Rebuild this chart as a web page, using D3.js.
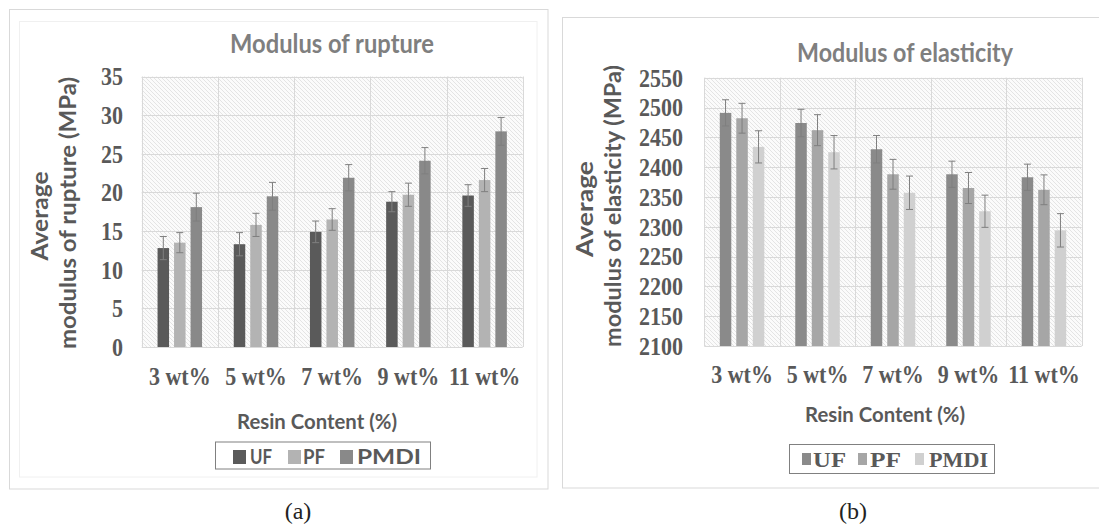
<!DOCTYPE html>
<html><head><meta charset="utf-8">
<script src="https://cdn.jsdelivr.net/npm/d3@7"></script>
<style>body{margin:0;background:#fff;overflow:hidden}</style>
</head><body>
<svg id="c" width="1099" height="529"></svg>
<script>
// ---------- data ----------
const categories = ["3 wt%", "5 wt%", "7 wt%", "9 wt%", "11 wt%"];
const seriesNames = ["UF", "PF", "PMDI"];

const morUF   = [12.8, 13.3, 14.9, 18.8, 19.6];
const morPF   = [13.5, 15.8, 16.5, 19.7, 21.6];
const morPMDI = [18.1, 19.5, 21.9, 24.1, 27.9];
const morErrUF   = [1.5, 1.5, 1.4, 1.3, 1.4];
const morErrPF   = [1.3, 1.5, 1.4, 1.5, 1.5];
const morErrPMDI = [1.8, 1.8, 1.7, 1.7, 1.8];

const moeUF   = [2491, 2474, 2430, 2388, 2383];
const moePF   = [2482, 2462, 2388, 2365, 2362];
const moePMDI = [2434, 2425, 2357, 2326, 2294];
const moeErrUF   = [22, 23, 23, 22, 22];
const moeErrPF   = [25, 26, 25, 26, 25];
const moeErrPMDI = [27, 28, 28, 27, 28];

const morTicks = [0, 5, 10, 15, 20, 25, 30, 35];
const moeTicks = [2100, 2150, 2200, 2250, 2300, 2350, 2400, 2450, 2500, 2550];

// ---------- drawing ----------
const svg = d3.select("#c");
const defs = svg.append("defs");
const pat = defs.append("pattern").attr("id", "hatch")
  .attr("patternUnits", "userSpaceOnUse").attr("width", 4).attr("height", 4);
pat.append("rect").attr("width", 4).attr("height", 4).attr("fill", "#fbfbfb");
pat.append("path").attr("d", "M0,0L4,4M-1,3L1,5M3,-1L5,1")
  .attr("stroke", "#dedede").attr("stroke-width", 0.8);

const SANS = "Lato, 'Open Sans', sans-serif";
const SERIF = "'Liberation Serif', 'Times New Roman', serif";

// frames
svg.append("rect").attr("x", 9.5).attr("y", 9.5).attr("width", 538.5).attr("height", 479.5)
  .attr("fill", "#fff").attr("stroke", "#d9d9d9");
svg.append("rect").attr("x", 19.5).attr("y", 21.5).attr("width", 517.5).attr("height", 455.5)
  .attr("fill", "none").attr("stroke", "#f0f0f0");
svg.append("rect").attr("x", 562.5).attr("y", 17.5).attr("width", 560).attr("height", 470.5)
  .attr("fill", "#fff").attr("stroke", "#d9d9d9");

function drawPanel(cfg) {
  const g = svg.append("g");
  const x = d3.scaleBand().domain(categories).range([cfg.x0, cfg.x1]);
  const y = d3.scaleLinear().domain([cfg.ticks[0], cfg.ticks[cfg.ticks.length - 1]]).range([cfg.y1, cfg.y0]);
  const xs = d3.scaleBand().domain(seriesNames).range([-22.25, 22.25]).paddingInner(0.303);

  g.append("rect").attr("x", cfg.x0).attr("y", cfg.y0)
    .attr("width", cfg.x1 - cfg.x0).attr("height", cfg.y1 - cfg.y0).attr("fill", "url(#hatch)");

  // gridlines
  g.selectAll(".hg").data(cfg.ticks).join("line")
    .attr("x1", cfg.x0).attr("x2", cfg.x1)
    .attr("y1", d => Math.round(y(d)) + 0.5).attr("y2", d => Math.round(y(d)) + 0.5)
    .attr("stroke", "#d9d9d9");
  const bounds = categories.map(c => x(c)).concat([cfg.x1]);
  g.selectAll(".vg").data(bounds).join("line")
    .attr("x1", d => Math.round(d) + 0.5).attr("x2", d => Math.round(d) + 0.5)
    .attr("y1", cfg.y0).attr("y2", cfg.y1)
    .attr("stroke", "#d9d9d9");

  // bars
  const rows = [];
  categories.forEach((c, i) => {
    seriesNames.forEach((s, j) => {
      rows.push({c, s, v: cfg.values[j][i], e: cfg.errors[j][i], color: cfg.colors[j]});
    });
  });
  const bx = d => x(d.c) + x.bandwidth() / 2 + xs(d.s);
  g.selectAll(".bar").data(rows).join("rect")
    .attr("x", bx).attr("width", xs.bandwidth())
    .attr("y", d => y(d.v)).attr("height", d => y(cfg.ticks[0]) - y(d.v))
    .attr("fill", d => d.color);

  // error bars
  const eg = g.selectAll(".err").data(rows).join("g").attr("stroke", cfg.errColor).attr("stroke-width", 1);
  eg.append("line")
    .attr("x1", d => bx(d) + xs.bandwidth() / 2).attr("x2", d => bx(d) + xs.bandwidth() / 2)
    .attr("y1", d => y(d.v - d.e)).attr("y2", d => y(d.v + d.e));
  eg.append("line")
    .attr("x1", d => bx(d) + xs.bandwidth() / 2 - 3.5).attr("x2", d => bx(d) + xs.bandwidth() / 2 + 3.5)
    .attr("y1", d => y(d.v + d.e)).attr("y2", d => y(d.v + d.e));
  eg.append("line")
    .attr("x1", d => bx(d) + xs.bandwidth() / 2 - 3.5).attr("x2", d => bx(d) + xs.bandwidth() / 2 + 3.5)
    .attr("y1", d => y(d.v - d.e)).attr("y2", d => y(d.v - d.e));

  // y axis labels
  const ya = g.append("g").attr("transform", `translate(${cfg.yLabelX},0)`)
    .call(d3.axisLeft(y).tickValues(cfg.ticks).tickSize(0).tickPadding(0).tickFormat(d3.format("d")));
  ya.select(".domain").remove();
  ya.selectAll("text").attr("font-family", SERIF).attr("font-weight", "bold")
    .attr("font-size", 22).attr("fill", "#595959").attr("dy", "0.33em")
    .attr("transform", "scale(1,1.15)");

  // x axis labels
  const xa = g.append("g").attr("transform", `translate(0,${cfg.xLabelY})`)
    .call(d3.axisBottom(x).tickSize(0).tickPadding(0));
  xa.select(".domain").remove();
  xa.selectAll("text").attr("y", 0).attr("dy", 0).attr("font-family", SERIF).attr("font-weight", "bold")
    .attr("font-size", 22).attr("fill", "#595959").attr("transform", "scale(1,1.1)");

  // title
  g.append("text").attr("x", cfg.title.x).attr("y", cfg.title.y).attr("text-anchor", "middle")
    .attr("font-family", SANS).attr("font-weight", "bold").attr("font-size", 26)
    .attr("fill", "#7f7f7f").attr("textLength", cfg.title.w).attr("lengthAdjust", "spacingAndGlyphs")
    .text(cfg.title.text);

  // y axis title (two lines)
  cfg.yTitle.forEach(t => {
    g.append("text").attr("transform", `translate(${t.x},${t.y}) rotate(-90)`)
      .attr("text-anchor", "middle").attr("font-family", SANS).attr("font-weight", "bold")
      .attr("font-size", 22).attr("fill", "#595959")
      .attr("textLength", t.w).attr("lengthAdjust", "spacingAndGlyphs").text(t.text);
  });

  // x axis title
  g.append("text").attr("x", cfg.xTitle.x).attr("y", cfg.xTitle.y).attr("text-anchor", "middle")
    .attr("font-family", SANS).attr("font-weight", "bold").attr("font-size", 21)
    .attr("fill", "#595959").attr("textLength", cfg.xTitle.w).attr("lengthAdjust", "spacingAndGlyphs")
    .text(cfg.xTitle.text);

  // legend
  const L = cfg.legend;
  g.append("rect").attr("x", L.x + 0.5).attr("y", L.y + 0.5).attr("width", L.w).attr("height", L.h)
    .attr("fill", "#fff").attr("stroke", "#808080");
  const li = g.selectAll(".li").data(seriesNames).join("g");
  li.append("rect").attr("x", (d, i) => L.sx[i]).attr("y", L.sy).attr("width", L.sw).attr("height", L.sh)
    .attr("fill", (d, i) => cfg.colors[i]);
  li.append("text").attr("x", (d, i) => L.tx[i]).attr("y", L.ty)
    .attr("font-family", L.font).attr("font-weight", "bold").attr("font-size", L.fs)
    .attr("fill", "#595959").attr("textLength", (d, i) => L.tw[i]).attr("lengthAdjust", "spacingAndGlyphs")
    .text(d => d);
}

drawPanel({
  x0: 141.7, x1: 522.7, y0: 76.5, y1: 347,
  ticks: morTicks,
  values: [morUF, morPF, morPMDI],
  errors: [morErrUF, morErrPF, morErrPMDI],
  colors: ["#5a5a5a", "#b3b3b3", "#898989"],
  errColor: "#7f7f7f",
  yLabelX: 123, xLabelY: 385,
  title: {text: "Modulus of rupture", x: 332, y: 53, w: 204},
  yTitle: [
    {text: "Average", x: 48, y: 216, w: 89},
    {text: "modulus of rupture (MPa)", x: 76, y: 213, w: 272}
  ],
  xTitle: {text: "Resin Content (%)", x: 317, y: 429, w: 160},
  legend: {x: 215, y: 441.5, w: 215, h: 27, sx: [233, 288, 340], sy: 450, sw: 13, sh: 14,
           tx: [250, 303, 357], ty: 464, tw: [22, 22, 64], font: SANS, fs: 21}
});

drawPanel({
  x0: 704.3, x1: 1081.7, y0: 77.7, y1: 346,
  ticks: moeTicks,
  values: [moeUF, moePF, moePMDI],
  errors: [moeErrUF, moeErrPF, moeErrPMDI],
  colors: ["#8a8a8a", "#a6a6a6", "#d0d0d0"],
  errColor: "#7f7f7f",
  yLabelX: 683, xLabelY: 383,
  title: {text: "Modulus of elasticity", x: 905, y: 62, w: 216},
  yTitle: [
    {text: "Average", x: 593, y: 209, w: 96},
    {text: "modulus of elasticity (MPa)", x: 621, y: 206, w: 282}
  ],
  xTitle: {text: "Resin Content (%)", x: 885, y: 422, w: 160},
  legend: {x: 789, y: 444, w: 205, h: 29, sx: [802, 858, 915], sy: 453, sw: 9, sh: 12,
           tx: [813, 870, 929], ty: 466.5, tw: [33, 31, 59], font: SERIF, fs: 22}
});

// captions
svg.append("text").attr("x", 298).attr("y", 519).attr("text-anchor", "middle")
  .attr("font-family", SERIF).attr("font-size", 24).attr("fill", "#222").text("(a)");
svg.append("text").attr("x", 853).attr("y", 519).attr("text-anchor", "middle")
  .attr("font-family", SERIF).attr("font-size", 24).attr("fill", "#222").text("(b)");
</script>
</body></html>
